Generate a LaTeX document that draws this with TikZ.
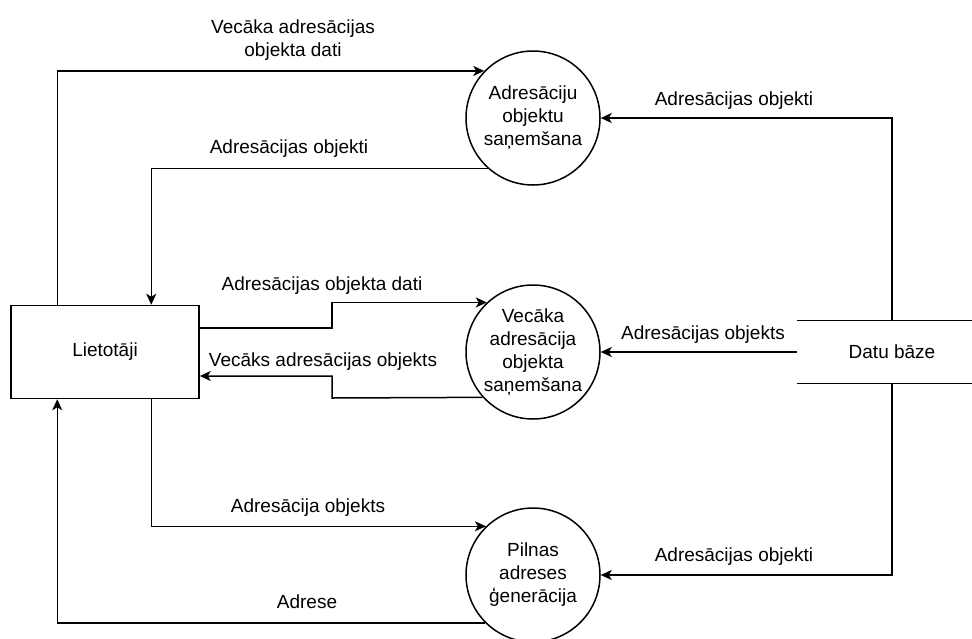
\documentclass[tikz,border=0pt]{standalone}
\usepackage{fontspec}
\setmainfont{Liberation Sans}
\usetikzlibrary{arrows.meta}
\begin{document}
\begin{tikzpicture}[x=1pt,y=-1pt,
  every node/.style={font=\fontsize{19}{23}\selectfont},
  line/.style={line width=1.5pt, draw=black},
  flow/.style={line, -{Stealth[length=11pt,width=10pt,inset=3pt]}},
  process/.style={circle, line, fill=white, inner sep=0pt, minimum size=134pt,
    align=center},
  entity/.style={rectangle, line, minimum width=188pt, minimum height=93pt, inner sep=0pt},
  store/.style={rectangle, minimum width=190pt, minimum height=63pt, inner sep=0pt},
  lbl/.style={inner sep=0pt, text height=13pt, text depth=0pt},
  lbltwo/.style={inner sep=0pt, align=center}]
\useasboundingbox (0,0) rectangle (972,638);

% external entity, processes and data store
\node[entity] (user) at (105,352) {Lietotāji};
\node[process] (p1) at (533,118) {Adresāciju\\objektu\\saņemšana};
\node[process] (p2) at (533,352) {Vecāka\\adresācija\\objekta\\saņemšana};
\node[process] (p3) at (533,575) {Pilnas\\adreses\\ģenerācija};
\node[store] (db) at (892,352) {Datu bāze};
\draw[line] (db.north west) -- (db.north east);
\draw[line] (db.south west) -- (db.south east);

% data flows
\draw[flow] ([xshift=47pt]user.north west) |- (p1.136.6);
\draw[flow] (p1.228.3) -| ([xshift=141pt]user.north west);
\draw[flow] ([yshift=24pt]user.east) -- (332,328) |- (p2.133);
\draw[flow] (p2.222.2) -- (332,398) |- ([yshift=-24pt]user.east);
\draw[flow] (db.west) -- (p2.east);
\draw[flow] (db.north) |- (p1.east);
\draw[flow] (db.south) |- (p3.east);
\draw[flow] ([xshift=141pt]user.south west) |- (p3.134.2);
\draw[flow] (p3.225.8) -| ([xshift=47pt]user.south west);

% flow labels
\node[lbltwo] (l1) at (293,40) {Vecāka adresācijas\\objekta dati};
\node[lbl] (l2) at (289,147) {Adresācijas objekti};
\node[lbl] (l3) at (322,284) {Adresācijas objekta dati};
\node[lbl] (l4) at (323,360) {Vecāks adresācijas objekts};
\node[lbl] (l5) at (703,333) {Adresācijas objekts};
\node[lbl] (l6) at (734,99) {Adresācijas objekti};
\node[lbl] (l7) at (734,555) {Adresācijas objekti};
\node[lbl] (l8) at (308,506) {Adresācija objekts};
\node[lbl] (l9) at (307,602) {Adrese};
\end{tikzpicture}
\end{document}
